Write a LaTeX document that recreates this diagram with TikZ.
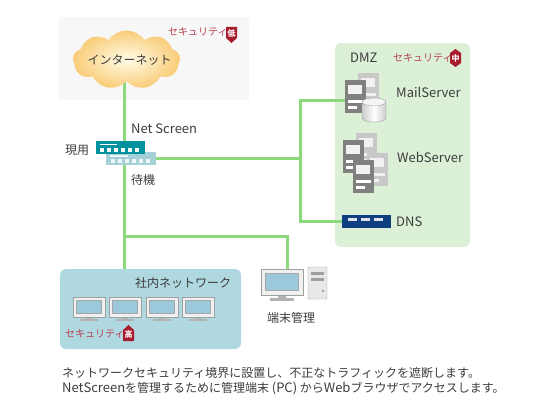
\documentclass[tikz,border=0pt]{standalone}
\usepackage{fontspec}
\setmainfont{Noto Sans CJK JP}
\usepackage{xcolor}
\definecolor{netgreen}{HTML}{8CD87C}
\definecolor{inetbg}{HTML}{F7F7F7}
\definecolor{dmzbg}{HTML}{DCF0D8}
\definecolor{lanbg}{HTML}{B0D8E0}
\definecolor{secred}{HTML}{B5434F}
\definecolor{badgered}{HTML}{A81C2E}
\definecolor{txtgray}{HTML}{3C3C3C}
\definecolor{swactive}{HTML}{00919F}
\definecolor{swstandby}{HTML}{A5D0D5}
\definecolor{dnsblue}{HTML}{0F3F80}
\definecolor{srvdark}{HTML}{808080}
\definecolor{srvlight}{HTML}{C8C8C8}
\definecolor{screenblue}{HTML}{9CC8DC}
\definecolor{cloudin}{HTML}{FFFCE8}
\definecolor{cloudout}{HTML}{F9CC78}
\usepackage{tikz}
\usetikzlibrary{arrows.meta,positioning,shapes.geometric,shapes.symbols,backgrounds}
\newcommand{\latn}[1]{{\fontsize{13}{14}\selectfont #1}}
\tikzset{
  lbl/.style={inner sep=0pt,text=txtgray,font=\fontsize{12}{14}\selectfont},
  latlbl/.style={inner sep=0pt,text=txtgray,font=\fontsize{13}{14}\selectfont},
  seclbl/.style={inner sep=0pt,text=secred,font=\fontsize{10}{12}\selectfont},
  badgetxt/.style={inner sep=0pt,text=white,font=\fontsize{8}{8}\selectfont\bfseries},
  panel/.style={inner sep=0pt,rounded corners=6pt},
  netline/.style={draw=netgreen,line width=3pt},
  swbox/.style={inner sep=0pt,minimum width=49pt,minimum height=13pt},
  srvbody/.style={anchor=north west,inner sep=0pt,minimum width=21pt,minimum height=33pt},
  srvfront/.pic={
    \node[srvbody,fill=srvdark] (-body) at (0,0) {};
    \fill[white!90!gray] (3,5) rectangle (17,14);
    \fill[white] (3,20) rectangle (18,23);
    \fill[white] (3,26) rectangle (12,29);
  },
  srvback/.pic={
    \node[srvbody,fill=srvlight] (-body) at (0,0) {};
    \fill[white!75!srvlight] (3,5) rectangle (17,14);
    \fill[white!75!srvlight] (3,20) rectangle (18,23);
    \fill[white!75!srvlight] (3,26) rectangle (12,29);
  },
  monitor/.pic={
    \coordinate (-top) at (20,0);
    \fill[gray!60] (13,19) rectangle (19,23);
    \fill[gray!60] (7,22) rectangle (25,24);
    \draw[draw=gray!75,fill=gray!12,line width=.8pt] (0,0) rectangle (32,20);
    \draw[draw=gray!70,fill=screenblue,line width=.4pt] (3.5,3) rectangle (28.5,16);
  }
}
\begin{document}
\begin{tikzpicture}[x=1pt,y=-1pt]
\useasboundingbox (0,0) rectangle (560,412);
\node[shape=cloud,cloud puffs=9,cloud puff arc=110,aspect=1.9,inner sep=0pt,minimum width=107pt,minimum height=59pt,
  inner color=cloudin,outer color=cloudout] (inet) at (126.5,60) {};
\node[lbl] (inettxt) at (129.5,60) {インターネット};
\coordinate (inettap) at (124,80);
\node[seclbl,anchor=west] (seclow) at (168,32) {セキュリティ};
\fill[badgered] (226,27) -- (237,27) -- (237,38) -- (231.5,43) -- (226,38) -- cycle;
\node[badgetxt] (badgelow) at (231.5,33) {低};
\node[latlbl,anchor=west] (nsname) at (131,129) {Net Screen};
\node[lbl,anchor=west] (nsact) at (65,150) {現用};
\node[lbl,anchor=west] (nssby) at (131,180) {待機};
\node[swbox,minimum width=50pt,fill=swstandby] (swb) at (131,158.5) {};
\foreach \i in {0,1,2,3,4,5} \fill[white!80!swstandby] (111+\i*7,159) rectangle +(4,4);
\fill[white!80!swstandby] (110,154.5) rectangle (128,157);
\node[swbox,fill=swactive] (swa) at (120.5,147.5) {};
\foreach \i in {0,1,2,3,4,5} \fill[white] (100+\i*7,148) rectangle +(4,4);
\fill[white] (100,143.5) rectangle (117,145);
\node[latlbl,anchor=west] (dmztxt) at (350,58) {DMZ};
\node[seclbl,anchor=west] (secmid) at (393,58) {セキュリティ};
\fill[badgered] (455.5,49) -- (461,53) -- (461,63) -- (455.5,67) -- (450,63) -- (450,53) -- cycle;
\node[badgetxt] (badgemid) at (455.5,58) {中};
\pic (mailb) at (358,73) {srvback};
\pic (mail) at (345,80) {srvfront};
\draw[draw=gray!75,left color=gray!40,right color=gray!40,middle color=white] (362,102) -- (362,118) arc[start angle=180,end angle=0,x radius=12,y radius=4] -- (386,102) -- cycle;
\draw[draw=gray!75,fill=gray!8] (374,102) ellipse[x radius=12,y radius=4];
\node[latlbl,anchor=west] (mailtxt) at (396,92) {MailServer};
\pic at (356,133) {srvback};
\pic at (367,153) {srvback};
\pic at (343,140) {srvfront};
\pic at (353,160) {srvfront};
\node[latlbl,anchor=west] (webtxt) at (397,157) {WebServer};
\node[inner sep=0pt,minimum width=49pt,minimum height=13pt,fill=dnsblue] (dnssrv) at (366.5,221.5) {};
\foreach \i in {0,1,2} \fill[white!85!dnsblue] (348+\i*13,217.5) rectangle +(9,3.5);
\node[latlbl,anchor=west] (dnstxt) at (396,222) {DNS};
\node[lbl,anchor=west] (lantxt) at (135,283) {社内ネットワーク};
\foreach \x in {73,109,146,182} \pic at (\x,297) {monitor};
\node[seclbl,anchor=west] (sechigh) at (65,334) {セキュリティ};
\fill[badgered] (128.5,325) -- (134,330) -- (134,341) -- (123,341) -- (123,330) -- cycle;
\node[badgetxt] (badgehigh) at (128.5,334) {高};
\pic[scale=1.31] (term) at (261,269.5) {monitor};
\draw[draw=gray!70,fill=gray!18,rounded corners=1pt] (308,267) rectangle (327,299);
\fill[gray!75] (311,272) rectangle (324,275);
\fill[gray!75] (311,278) rectangle (324,281);
\fill[gray!75] (322,290) rectangle (324,292);
\node[lbl,anchor=west] (termtxt) at (267,318) {端末管理};
\node[lbl,anchor=west] (note1) at (62,372.5) {ネットワークセキュリティ境界に設置し、不正なトラフィックを遮断します。};
\node[lbl,anchor=west] (note2) at (62,388) {\latn{NetScreen}を管理するために管理端末 \latn{(PC)} から\latn{Web}ブラウザでアクセスします。};
\coordinate (bustop) at (300,101);
\coordinate (lanbus) at (124,236);
\begin{scope}[on background layer]
\node[inner sep=0pt,minimum width=190pt,minimum height=83pt,fill=inetbg] (inetzone) at (154,58.5) {};
\node[panel,minimum width=135pt,minimum height=204pt,fill=dmzbg] (dmz) at (402.5,145) {};
\node[panel,minimum width=181pt,minimum height=80pt,fill=lanbg] (lan) at (150.5,309) {};
\draw[netline] (inettap) -- (inettap |- swa.north);
\draw[netline] (inettap |- swa.south) -- (lanbus) -- (lanbus |- lan.north);
\draw[netline] (swb.east) -- (bustop |- swb.east);
\draw[netline] (mail-body.west |- bustop) -- (bustop) -- (bustop |- dnssrv.west) -- (dnssrv.west);
\draw[netline] (lanbus) -| (term-top);
\end{scope}
\end{tikzpicture}
\end{document}
